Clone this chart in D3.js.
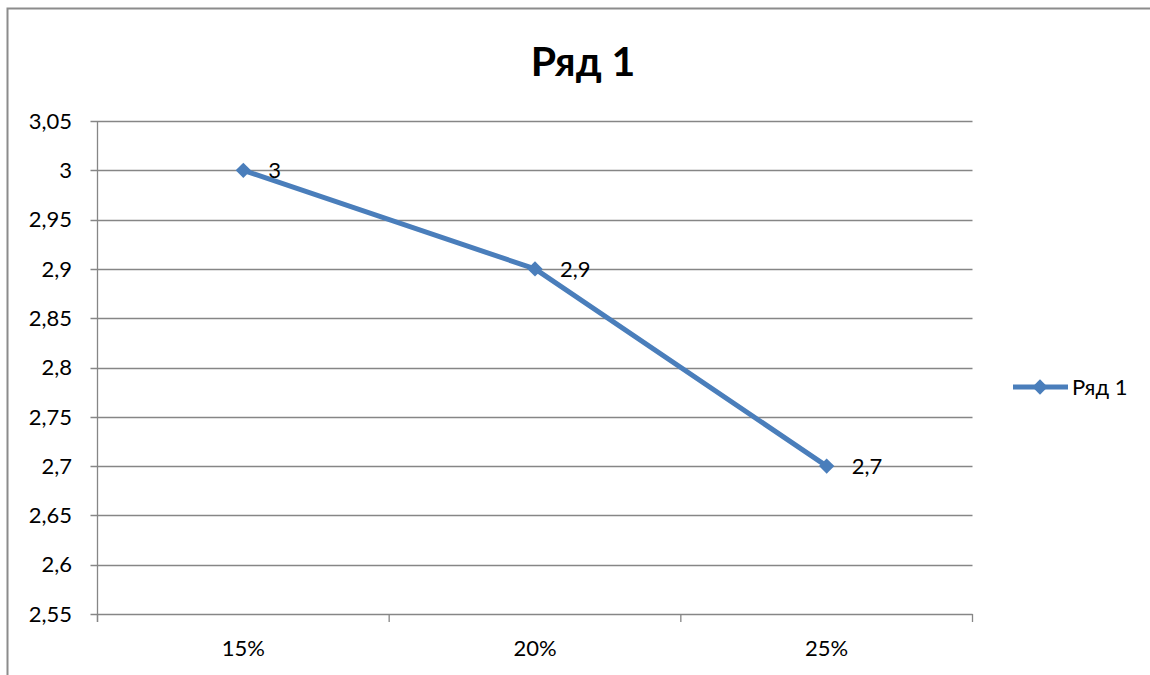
<!DOCTYPE html>
<html><head><meta charset="utf-8">
<script src="https://cdn.jsdelivr.net/npm/d3@7"></script>
<style>body{margin:0;background:#fff}svg{display:block}text{font-family:Lato,"Open Sans",sans-serif}</style>
</head><body>
<svg id="c" width="1150" height="675"></svg>
<script>
const categories = ["15%", "20%", "25%"];
const values = [3, 2.9, 2.7];
const yTicks = [2.55, 2.6, 2.65, 2.7, 2.75, 2.8, 2.85, 2.9, 2.95, 3, 3.05];
const seriesName = "Ряд 1";
const title = "Ряд 1";

const svg = d3.select("#c");
const color = "#4a7ebb";
const grid = "#868686";
const L = 97.5, R = 972.5, T = 121, B = 614;
const fs = 22;

// frame
svg.append("path").attr("d", "M7.5,675 V8.5 H1150").attr("fill","none").attr("stroke","#8c8c8c").attr("stroke-width",2);

const y = d3.scaleLinear().domain([2.55, 3.05]).range([B, T]);
const x = d3.scaleBand().domain(categories).range([L, R]);

// gridlines
svg.append("g").selectAll("line").data(yTicks).join("line")
  .attr("x1", L - 7).attr("x2", R)
  .attr("y1", d => Math.round(y(d)) + 0.5).attr("y2", d => Math.round(y(d)) + 0.5)
  .attr("stroke", grid).attr("stroke-width", 1.3);

// y axis line
svg.append("line").attr("x1", L).attr("x2", L).attr("y1", T).attr("y2", B + 8)
  .attr("stroke", grid).attr("stroke-width", 1.3);

// x axis ticks
const xEdges = categories.map(c => x(c)).concat([R]);
svg.append("g").selectAll("line").data(xEdges).join("line")
  .attr("x1", d => d).attr("x2", d => d).attr("y1", B).attr("y2", B + 8)
  .attr("stroke", grid).attr("stroke-width", 1.3);

// y labels
svg.append("g").selectAll("text").data(yTicks).join("text")
  .attr("x", 72).attr("y", d => y(d)).attr("dy", "0.35em")
  .attr("text-anchor", "end").attr("font-size", fs).attr("fill", "#000")
  .text(d => d3.format(".2~f")(d).replace(".", ","));

// x labels
svg.append("g").selectAll("text").data(categories).join("text")
  .attr("x", d => x(d) + x.bandwidth() / 2).attr("y", 656)
  .attr("text-anchor", "middle").attr("font-size", fs).attr("fill", "#000")
  .text(d => d);

// line
const pts = categories.map((c, i) => [x(c) + x.bandwidth() / 2, y(values[i])]);
svg.append("path").attr("d", d3.line()(pts)).attr("fill", "none")
  .attr("stroke", color).attr("stroke-width", 5).attr("stroke-linejoin", "round");

const sym = d3.symbol().type(d3.symbolDiamond2).size(150);
svg.append("g").selectAll("path").data(pts).join("path")
  .attr("transform", d => `translate(${d[0]},${d[1]})`)
  .attr("d", sym).attr("fill", color);

// data labels
svg.append("g").selectAll("text").data(pts).join("text")
  .attr("x", d => d[0] + 25).attr("y", d => d[1]).attr("dy", "0.35em")
  .attr("font-size", fs).attr("fill", "#000")
  .text((d, i) => String(values[i]).replace(".", ","));

// title
svg.append("text").attr("x", 583).attr("y", 76).attr("text-anchor", "middle")
  .attr("font-size", 41).attr("font-weight", "bold").attr("fill", "#000").text(title);

// legend
svg.append("line").attr("x1", 1013).attr("x2", 1068).attr("y1", 387).attr("y2", 387)
  .attr("stroke", color).attr("stroke-width", 5);
svg.append("path").attr("transform", "translate(1040,387)").attr("d", sym).attr("fill", color);
svg.append("text").attr("x", 1072).attr("y", 387).attr("dy", "0.35em")
  .attr("font-size", fs).attr("fill", "#000").text(seriesName);
</script>
</body></html>
